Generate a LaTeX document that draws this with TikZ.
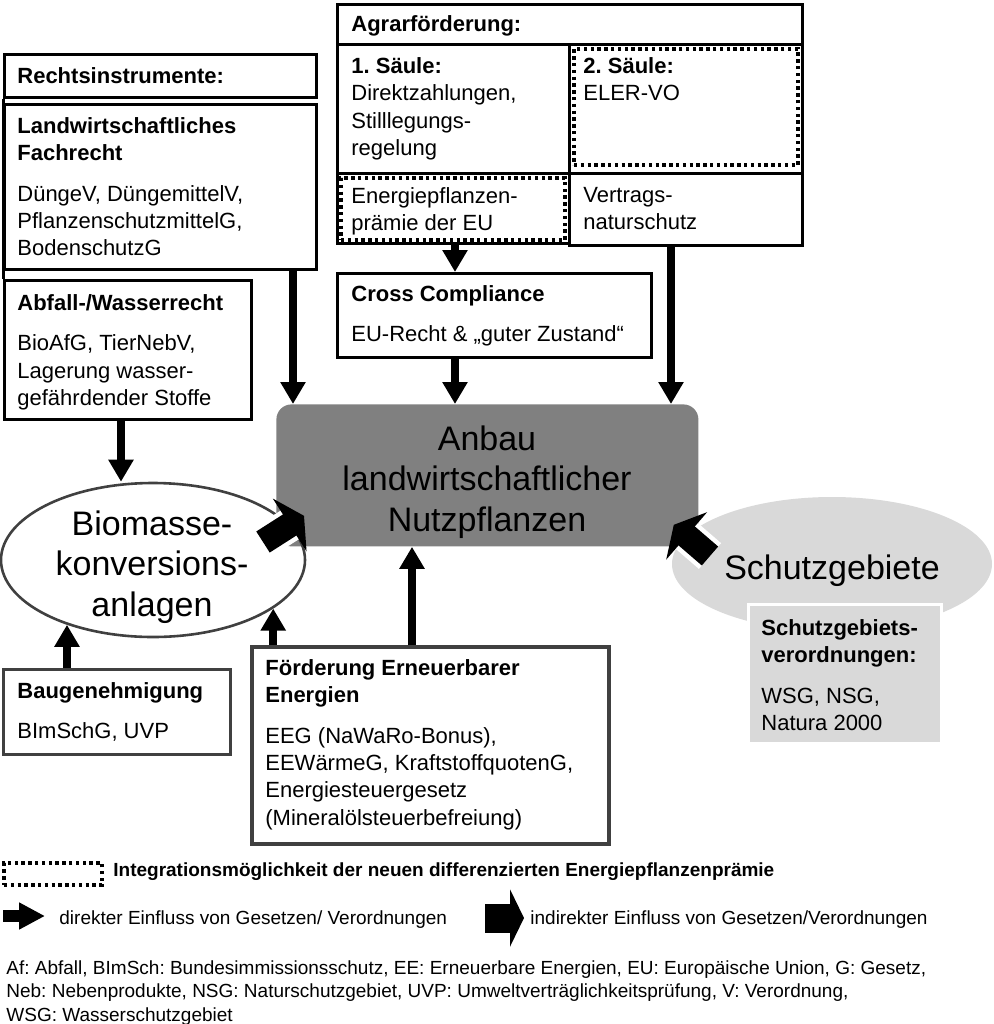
\documentclass[tikz,border=0pt]{standalone}
\usepackage{fontspec}
\setmainfont{Liberation Sans}
\usetikzlibrary{arrows.meta,shapes.geometric}

\definecolor{hellgrau}{gray}{0.85}
\definecolor{mittelgrau}{gray}{0.5}
\definecolor{dunkelgrau}{gray}{0.25}

\tikzset{
  kasten/.style={draw, line width=1.5pt, inner sep=0pt, anchor=north west},
  punktiert/.style={draw, line width=2pt, dash pattern=on 1.7pt off 1.7pt, inner sep=0pt, anchor=north west},
  txt/.style={anchor=north west, inner sep=0pt, align=left, font=\fontsize{11}{13.7}\selectfont\frenchspacing},
  gross/.style={inner sep=0pt, align=center, font=\fontsize{17}{20.25}\selectfont},
  klein/.style={anchor=north west, inner sep=0pt, align=left, font=\fontsize{9.5}{11.75}\selectfont\frenchspacing},
  pfeil/.style={line width=4pt, -{Triangle[length=11pt,width=12pt]}},
  blockpfeil/.style={line width=12.5pt, -{Triangle[length=8.5pt,width=31pt]},
    preaction={draw=white, line width=17pt, -, shorten >=8pt}},
}

\begin{document}
\begin{tikzpicture}[x=0.5pt,y=-0.5pt]
\useasboundingbox (0,0) rectangle (994,1024);
% Rechtsinstrumente
\node[kasten, minimum width=156pt, minimum height=21.5pt] (recht) at (3,53) {};
\node[kasten, minimum width=156pt, minimum height=82.5pt] (fachrecht) at (3,103) {};
\node[kasten, minimum width=123.5pt, minimum height=69.5pt] (abfall) at (3,279) {};
\draw[line width=1.5pt] (recht.south west) -- (abfall.north west);
\node[txt] (recht-t) at (17,67) {\textbf{Rechtsinstrumente:}};
\node[txt] (fachrecht-t) at (17,117) {\textbf{Landwirtschaftliches}\\\textbf{Fachrecht}\\[6.5pt]
  DüngeV, DüngemittelV,\\PflanzenschutzmittelG,\\BodenschutzG};
\node[txt] (abfall-t) at (17,294) {\textbf{Abfall-/Wasserrecht}\\[6.5pt]
  BioAfG, TierNebV,\\Lagerung wasser-\\gefährdender Stoffe};
% Agrarfoerderung
\node[kasten, minimum width=232.5pt, minimum height=20pt] (agrar) at (336,3) {};
\node[kasten, minimum width=116pt, minimum height=64.5pt] (saeule1) at (336,43) {};
\node[kasten, minimum width=116.5pt, minimum height=64.5pt] (saeule2) at (568,43) {};
\node[kasten, minimum width=116pt, minimum height=35pt] (epp) at (336,172) {};
\node[kasten, minimum width=116.5pt, minimum height=36pt] (vns) at (568,172) {};
\node[punktiert, minimum width=112pt, minimum height=58pt] (saeule2-p) at (572,47) {};
\node[punktiert, minimum width=112pt, minimum height=31pt] (epp-p) at (339,176) {};
\node[txt] (agrar-t) at (351,15) {\textbf{Agrarförderung:}};
\node[txt] (saeule1-t) at (351,57) {\textbf{1. Säule:}\\Direktzahlungen,\\Stilllegungs-\\regelung};
\node[txt] (saeule2-t) at (583,57) {\textbf{2. Säule:}\\ELER-VO};
\node[txt] (epp-t) at (351,187) {Energiepflanzen-\\prämie der EU};
\node[txt] (vns-t) at (583,187) {Vertrags-\\naturschutz};
% Cross Compliance
\node[kasten, minimum width=157pt, minimum height=42pt] (cc) at (336,272) {};
\node[txt] (cc-t) at (351,285) {\textbf{Cross Compliance}\\[6.5pt]EU-Recht \& „guter Zustand“};
% Anbau
\node[fill=mittelgrau, rounded corners=7.5pt, inner sep=0pt, anchor=north west,
  minimum width=211pt, minimum height=71pt] (anbau) at (276,404) {};
\node[gross] (anbau-t) at (487,482) {Anbau\\landwirtschaftlicher\\Nutzpflanzen};
% Biomasse
\node[ellipse, draw=dunkelgrau, line width=1.3pt, inner sep=0pt,
  minimum width=152pt, minimum height=77pt] (biomasse) at (153,560) {};
\node[gross] (biomasse-t) at (152,567) {Biomasse-\\konversions-\\anlagen};
% Schutzgebiete
\node[ellipse, fill=hellgrau, inner sep=0pt, minimum width=160pt, minimum height=67pt] (schutz) at (832,564) {};
\node[gross] (schutz-t) at (832,571) {Schutzgebiete};
\node[kasten, draw=white, fill=hellgrau, minimum width=96.5pt, minimum height=69.5pt] (sgvo) at (747,603) {};
\node[txt] (sgvo-t) at (761,619) {\textbf{Schutzgebiets-}\\\textbf{verordnungen:}\\[6.5pt]WSG, NSG,\\Natura 2000};
% Baugenehmigung, EE
\node[kasten, draw=dunkelgrau, minimum width=113.5pt, minimum height=42.5pt] (bau) at (2,668) {};
\node[txt] (bau-t) at (17,682) {\textbf{Baugenehmigung}\\[6.5pt]BImSchG, UVP};
\node[kasten, draw=dunkelgrau, line width=2pt, minimum width=178.5pt, minimum height=98.5pt] (eeg) at (250,645) {};
\node[txt] (eeg-t) at (265,659) {\textbf{Förderung Erneuerbarer}\\\textbf{Energien}\\[6.5pt]
  EEG (NaWaRo-Bonus),\\EEWärmeG, KraftstoffquotenG,\\Energiesteuergesetz\\(Mineralölsteuerbefreiung)};
% Pfeile
\draw[pfeil] (293,0 |- fachrecht.south) -- (293,0 |- anbau.north);
\draw[pfeil] (121,0 |- abfall.south) -- (121,0 |- biomasse.north);
\draw[pfeil] (455,0 |- epp.south) -- (455,0 |- cc.north);
\draw[pfeil] (455,0 |- cc.south) -- (455,0 |- anbau.north);
\draw[pfeil] (671,0 |- vns.south) -- (671,0 |- anbau.north);
\draw[pfeil] (412,0 |- eeg.north) -- (412,0 |- anbau.south);
\draw[pfeil] (biomasse.-22 |- eeg.north) -- (biomasse.-22);
\draw[pfeil] (biomasse.-143.6 |- bau.north) -- (biomasse.-143.6);
\draw[blockpfeil] ([shift={(110,-18)}]biomasse.center) -- ([shift={(28,-31)}]anbau.south west);
\draw[blockpfeil] ([shift={(-122,-8)}]schutz.center) -- ([shift={(-25,-22)}]anbau.south east);
% Legende
\node[punktiert, minimum width=49pt, minimum height=11pt] (lg-box) at (2,861) {};
\node[klein] (lg-box-t) at (113,862) {\textbf{Integrationsmöglichkeit der neuen differenzierten Energiepflanzenprämie}};
\coordinate (lg-d1) at (3,916);
\coordinate (lg-d2) at (45,916);
\draw[line width=6pt, -{Triangle[length=13pt,width=12.7pt]}] (lg-d1) -- (lg-d2);
\node[klein] (lg-d-t) at (59,910) {direkter Einfluss von Gesetzen/ Verordnungen};
\coordinate (lg-i1) at (485,918);
\coordinate (lg-i2) at (524,918);
\draw[line width=14.5pt, -{Triangle[length=7pt,width=28.5pt]}] (lg-i1) -- (lg-i2);
\node[klein] (lg-i-t) at (530,910) {indirekter Einfluss von Gesetzen/Verordnungen};
\node[klein] (abk) at (6,960) {Af: Abfall, BImSch: Bundesimmissionsschutz, EE: Erneuerbare Energien, EU: Europäische Union, G: Gesetz,\\
  Neb: Nebenprodukte, NSG: Naturschutzgebiet, UVP: Umweltverträglichkeitsprüfung, V: Verordnung,\\
  WSG: Wasserschutzgebiet};
\end{tikzpicture}
\end{document}
